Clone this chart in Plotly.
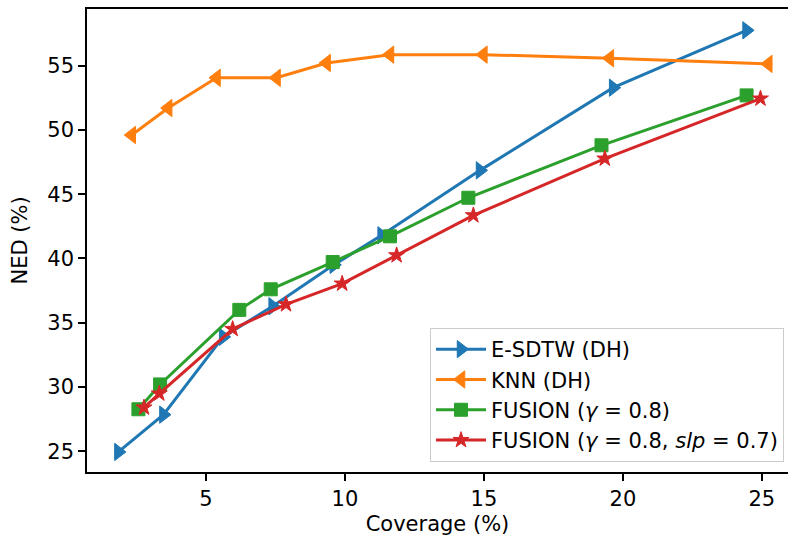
import plotly.graph_objects as go

# Data
esdtw_x = [1.85, 3.47, 5.62, 7.40, 9.60, 11.32, 14.86, 19.65, 24.45]
esdtw_y = [24.95, 27.85, 33.9, 36.28, 39.5, 41.8, 46.85, 53.28, 57.74]

knn_x = [2.33, 3.64, 5.38, 7.54, 9.34, 11.62, 14.98, 19.53, 25.23]
knn_y = [49.6, 51.7, 54.05, 54.05, 55.2, 55.85, 55.85, 55.57, 55.13]

fus_x = [2.57, 3.35, 6.20, 7.33, 9.56, 11.62, 14.44, 19.23, 24.45]
fus_y = [28.27, 30.2, 36.0, 37.6, 39.72, 41.72, 44.72, 48.8, 52.68]

fus2_x = [2.77, 3.32, 5.96, 7.88, 9.90, 11.86, 14.62, 19.35, 24.95]
fus2_y = [28.4, 29.49, 34.51, 36.43, 38.04, 40.24, 43.35, 47.76, 52.43]

x_ticks = [5, 10, 15, 20, 25]
y_ticks = [25, 30, 35, 40, 45, 50, 55]

series = [
    ("E-SDTW (DH)", esdtw_x, esdtw_y, "#1f77b4", "triangle-right", 15),
    ("KNN (DH)", knn_x, knn_y, "#ff7f0e", "triangle-left", 15),
    ("FUSION (<i>γ</i> = 0.8)", fus_x, fus_y, "#2ca02c", "square", 13),
    ("FUSION (<i>γ</i> = 0.8, <i>slp</i> = 0.7)", fus2_x, fus2_y, "#d62728", "star", 12),
]

fig = go.Figure()
for i, (name, xs, ys, col, sym, sz) in enumerate(series):
    fig.add_trace(go.Scatter(
        x=xs, y=ys, name=name, mode="lines+markers",
        legendgroup=f"g{i}",
        line=dict(color=col, width=3),
        marker=dict(symbol=sym, size=sz, color=col, line=dict(color=col, width=1)),
    ))

font = dict(family="DejaVu Sans", size=21, color="black")
fig.update_layout(
    width=788, height=539,
    margin=dict(l=87, r=0, t=9, b=67),
    paper_bgcolor="white", plot_bgcolor="white",
    font=font,
    showlegend=True,
    legend=dict(
        x=1 - 4 / 701, y=10 / 463, xanchor="right", yanchor="bottom",
        bgcolor="rgba(255,255,255,0.8)", bordercolor="#cccccc", borderwidth=1,
        font=font, tracegroupgap=0, itemwidth=50,
    ),
)
fig.update_xaxes(
    range=[0.72, 25.94], tickvals=x_ticks, ticks="outside", ticklen=7, tickwidth=1.6,
    tickcolor="black", showline=True, linecolor="black", linewidth=1.6, mirror=True,
    showgrid=False, zeroline=False,
    title=dict(text="Coverage (%)", font=font, standoff=6),
)
fig.update_yaxes(
    range=[23.39, 59.4], tickvals=y_ticks, ticks="outside", ticklen=7, tickwidth=1.6,
    tickcolor="black", showline=True, linecolor="black", linewidth=1.6, mirror=False,
    showgrid=False, zeroline=False,
    title=dict(text="NED (%)", font=font, standoff=14),
)

fig.write_html("out.html")
